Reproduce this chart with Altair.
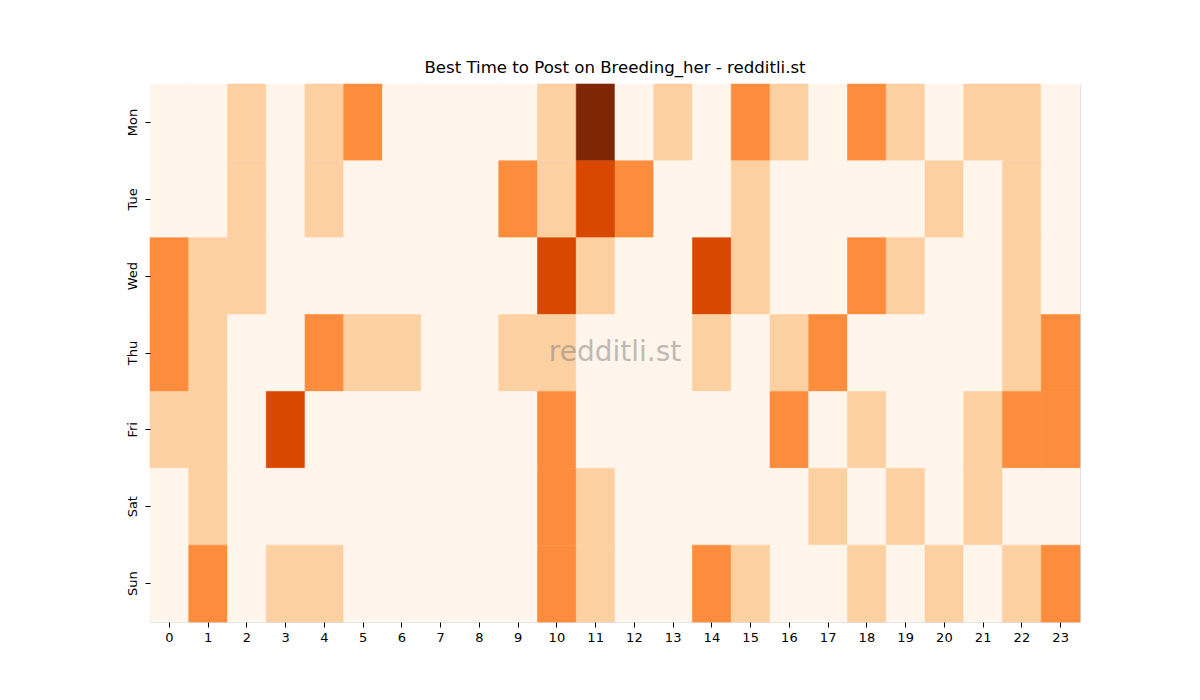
import altair as alt
import pandas as pd

days = ["Mon", "Tue", "Wed", "Thu", "Fri", "Sat", "Sun"]
hours = list(range(24))

mon = [0, 0, 1, 0, 1, 2, 0, 0, 0, 0, 1, 4, 0, 1, 0, 2, 1, 0, 2, 1, 0, 1, 1, 0]
tue = [0, 0, 1, 0, 1, 0, 0, 0, 0, 2, 1, 3, 2, 0, 0, 1, 0, 0, 0, 0, 1, 0, 1, 0]
wed = [2, 1, 1, 0, 0, 0, 0, 0, 0, 0, 3, 1, 0, 0, 3, 1, 0, 0, 2, 1, 0, 0, 1, 0]
thu = [2, 1, 0, 0, 2, 1, 1, 0, 0, 1, 1, 0, 0, 0, 1, 0, 1, 2, 0, 0, 0, 0, 1, 2]
fri = [1, 1, 0, 3, 0, 0, 0, 0, 0, 0, 2, 0, 0, 0, 0, 0, 2, 0, 1, 0, 0, 1, 2, 2]
sat = [0, 1, 0, 0, 0, 0, 0, 0, 0, 0, 2, 1, 0, 0, 0, 0, 0, 1, 0, 1, 0, 1, 0, 0]
sun = [0, 2, 0, 1, 1, 0, 0, 0, 0, 0, 2, 1, 0, 0, 2, 1, 0, 0, 1, 0, 1, 0, 1, 2]

levels = [0, 1, 2, 3, 4]
palette = ["#fff5eb", "#fdd0a2", "#fd8d3c", "#d94801", "#7f2704"]

rows = []
for d, vals in zip(days, [mon, tue, wed, thu, fri, sat, sun]):
    for h, v in zip(hours, vals):
        rows.append({"day": d, "hour": h, "value": v})
df = pd.DataFrame(rows)

FONT = "DejaVu Sans"
cscale = alt.Scale(domain=levels, range=palette)

heat = alt.Chart(df).mark_rect(strokeWidth=0.6).encode(
    x=alt.X("hour:O", sort=hours,
            scale=alt.Scale(paddingInner=0, paddingOuter=0),
            axis=alt.Axis(title=None, labelAngle=0, domain=False, tickSize=5,
                          tickColor="black", labelFontSize=13, labelFont=FONT,
                          labelColor="black", labelPadding=4)),
    y=alt.Y("day:O", sort=days,
            scale=alt.Scale(paddingInner=0, paddingOuter=0),
            axis=alt.Axis(title=None, labelAngle=270, domain=False, tickSize=5,
                          tickColor="black", labelFontSize=13, labelFont=FONT,
                          labelColor="black", labelPadding=6,
                          labelAlign="center", labelBaseline="bottom")),
    color=alt.Color("value:O", scale=cscale, legend=None),
    stroke=alt.Stroke("value:O", scale=cscale, legend=None),
)

mark = alt.Chart(pd.DataFrame({"t": ["redditli.st"]})).mark_text(
    font=FONT, fontSize=28, color="#808080", opacity=0.5, align="center", baseline="middle"
).encode(text="t:N", x=alt.value(465), y=alt.value(269))

chart = alt.layer(heat, mark).properties(
    width=930, height=538,
    title=alt.TitleParams("Best Time to Post on Breeding_her - redditli.st",
                          font=FONT, fontSize=16.6, fontWeight="normal", color="black",
                          anchor="middle", offset=7),
    autosize=alt.AutoSizeParams(type="none"),
    padding={"left": 150, "top": 84, "right": 120, "bottom": 78},
).configure_view(strokeWidth=0).configure(background="white")

chart.save("out.html", embed_options={"renderer": "svg", "actions": False})
